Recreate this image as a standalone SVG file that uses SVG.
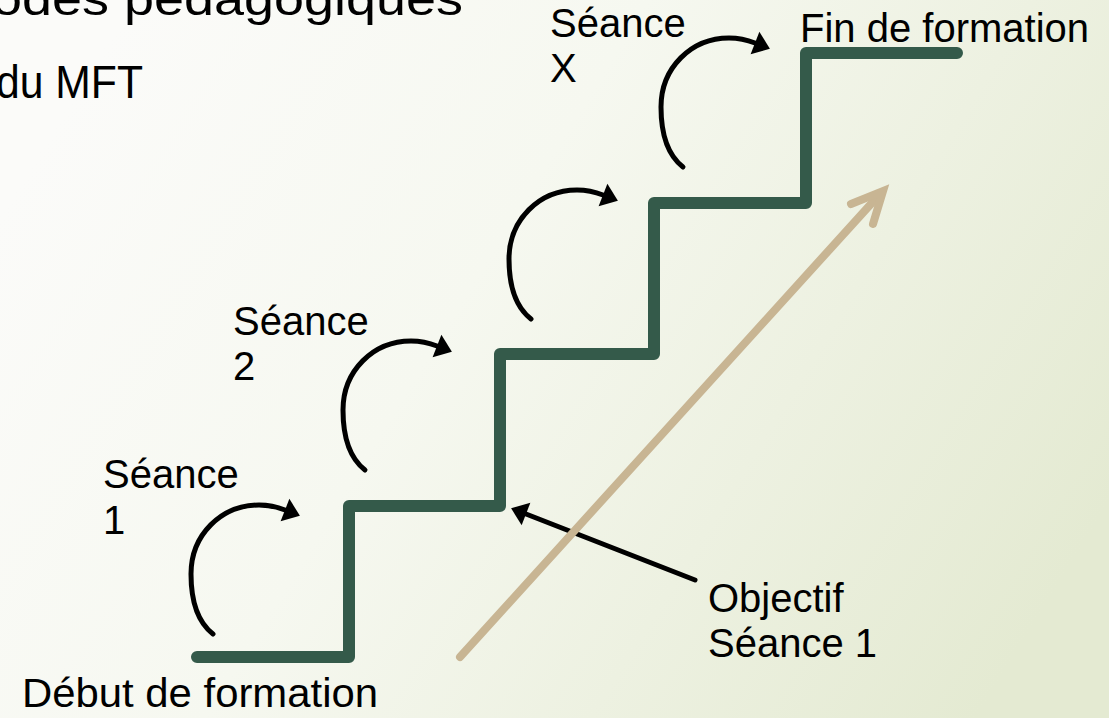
<svg xmlns="http://www.w3.org/2000/svg" width="1109" height="718" viewBox="0 0 1109 718">
  <defs>
    <linearGradient id="bg" x1="0" y1="0.3" x2="1" y2="0.7">
      <stop offset="0" stop-color="#fbfbf9"/>
      <stop offset="0.4" stop-color="#f6f8f0"/>
      <stop offset="1" stop-color="#e4ead2"/>
    </linearGradient>
    <marker id="ah" markerUnits="userSpaceOnUse" viewBox="0 -12 16 24" refX="0" refY="0" markerWidth="16" markerHeight="24" orient="auto" overflow="visible">
      <path d="M0,-12 L16,0 L0,12 Z" fill="#000"/>
    </marker>
    <style>
      .lbl { font-family: "Liberation Sans", Arial, sans-serif; font-size: 40px; fill: #000; }
      .ttl { font-family: "Liberation Sans", Arial, sans-serif; font-size: 47px; fill: #000; }
      .arc { fill: none; stroke: #000; stroke-width: 5; stroke-linecap: round; marker-end: url(#ah); }
      .stair { fill: none; stroke: #345a4a; stroke-width: 12; stroke-linecap: round; stroke-linejoin: round; }
      .tan { fill: none; stroke: #c8b593; stroke-width: 8; stroke-linecap: round; }
    </style>
  </defs>
  <rect x="0" y="0" width="1109" height="718" fill="url(#bg)"/>

  <g id="title">
    <text class="ttl" x="-8" y="15" textLength="471" lengthAdjust="spacingAndGlyphs">odes pédagogiques</text>
    <text class="ttl" x="-4" y="98" textLength="147" lengthAdjust="spacingAndGlyphs">du MFT</text>
  </g>

  <g id="stairs">
    <path class="stair" d="M197,657 H349 V506 H500 V354 H654 V203 H806 V53 H957"/>
  </g>

  <g id="connectors">
    <path class="arc" transform="translate(213,634)" d="M0,0 C-18,-14 -22,-38 -22,-60 C-22,-99 8,-129 46,-129 C55,-129 63.6,-127.3 72,-124"/>
    <path class="arc" transform="translate(365,470)" d="M0,0 C-18,-14 -22,-38 -22,-60 C-22,-99 8,-129 46,-129 C55,-129 63.6,-127.3 72,-124"/>
    <path class="arc" transform="translate(531,319)" d="M0,0 C-18,-14 -22,-38 -22,-60 C-22,-99 8,-129 46,-129 C55,-129 63.6,-127.3 72,-124"/>
    <path class="arc" transform="translate(683,167)" d="M0,0 C-18,-14 -22,-38 -22,-60 C-22,-99 8,-129 46,-129 C55,-129 63.6,-127.3 72,-124"/>
    <path d="M695,580 L526,514" fill="none" stroke="#000" stroke-width="5" stroke-linecap="round" marker-end="url(#ah)"/>
    <path class="tan" d="M460,657 L880,194"/>
    <path class="tan" d="M851,204 L883,191 L873,224" stroke-linejoin="miter"/>
  </g>

  <g id="label-debut"><text class="lbl" x="22" y="707" textLength="356" lengthAdjust="spacingAndGlyphs">Début de formation</text></g>
  <g id="label-fin"><text class="lbl" x="800" y="42">Fin de formation</text></g>
  <g id="label-seance1"><text class="lbl" x="103" y="488">Séance</text><text class="lbl" x="103" y="534">1</text></g>
  <g id="label-seance2"><text class="lbl" x="233" y="335">Séance</text><text class="lbl" x="233" y="380">2</text></g>
  <g id="label-seanceX"><text class="lbl" x="550" y="37">Séance</text><text class="lbl" x="550" y="82">X</text></g>
  <g id="label-objectif"><text class="lbl" x="708" y="612">Objectif</text><text class="lbl" x="708" y="657">Séance 1</text></g>
</svg>
